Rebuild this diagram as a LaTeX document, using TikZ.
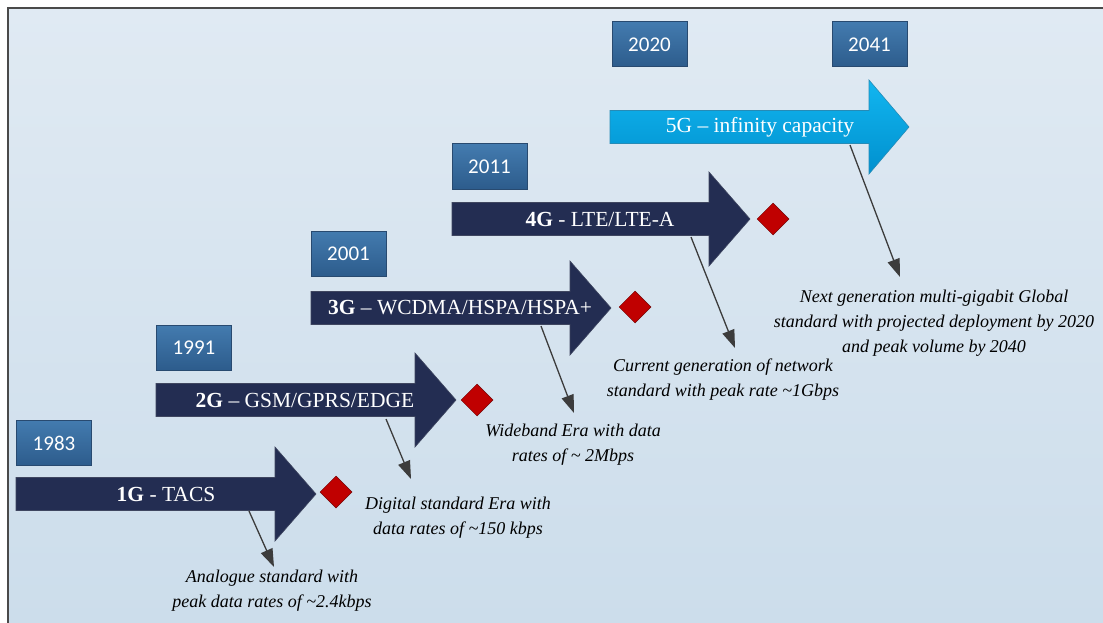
\documentclass[tikz,border=0pt]{standalone}
\usepackage{fontspec}
\newfontfamily\tnr{Liberation Serif}
\newfontfamily\yearfont{Carlito}
\usetikzlibrary{arrows.meta,shapes.geometric}
\definecolor{navy}{HTML}{232D52}
\definecolor{bgtop}{HTML}{E0EAF3}
\definecolor{bgbot}{HTML}{CCDDEB}
\definecolor{framec}{HTML}{4A4A4A}
\definecolor{yeartop}{HTML}{437BAF}
\definecolor{yearbot}{HTML}{2D5C8C}
\definecolor{yearline}{HTML}{284A70}
\definecolor{skytop}{HTML}{12B6F0}
\definecolor{skybot}{HTML}{0090CE}
\definecolor{redd}{HTML}{C00000}
\definecolor{calloutc}{HTML}{3C3C3C}
\newcommand\genarrow[5]{%
  \path[#1] (#2,{#5-16.5}) -- (#3,{#5-16.5}) -- (#3,{#5-47}) -- (#4,#5)
    -- (#3,{#5+47}) -- (#3,{#5+16.5}) -- (#2,{#5+16.5}) -- cycle;}
\begin{document}
\begin{tikzpicture}[x=1pt,y=-1pt,
  navyarrow/.style={fill=navy,draw=navy!70!gray,line width=0.6pt},
  skyarrow/.style={top color=skytop,bottom color=skybot,draw=skybot!70!gray,line width=0.6pt},
  yearbox/.style={top color=yeartop,bottom color=yearbot,draw=yearline,line width=1pt,
    minimum width=75pt,minimum height=45pt,inner sep=0pt,text=white,
    font=\yearfont\fontsize{21}{24}\selectfont},
  gentext/.style={text=white,inner sep=0pt,font=\tnr\fontsize{21.5}{24}\selectfont},
  marker/.style={diamond,aspect=1,fill=redd,draw=redd!60!black,line width=0.5pt,
    minimum width=32pt,minimum height=32pt,inner sep=0pt},
  note/.style={align=center,inner sep=0pt,font=\tnr\itshape\fontsize{18}{25}\selectfont},
  callout/.style={draw=calloutc,line width=1.3pt,-{Triangle[length=18pt,width=12.5pt]}}]
\useasboundingbox (0,0) rectangle (1103,623);
\shade[top color=bgtop,bottom color=bgbot] (8,8) rectangle (1103,623);
\draw[framec,line width=1.6pt] (8,623) -- (8,8) -- (1103,8);

% generation arrows
\genarrow{navyarrow}{16}{275}{316}{494}
\genarrow{navyarrow}{156}{415}{456}{400}
\genarrow{navyarrow}{311}{570}{611}{308}
\genarrow{navyarrow}{452}{709}{750}{219}
\genarrow{skyarrow}{610}{869}{909}{127}

\node[gentext] (g1) at (166,494) {\textbf{1G} - TACS};
\node[gentext] (g2) at (305,400) {\textbf{2G} – GSM/GPRS/EDGE};
\node[gentext] (g3) at (460,308) {\textbf{3G} – WCDMA/HSPA/HSPA+};
\node[gentext] (g4) at (600,219) {\textbf{4G} - LTE/LTE-A};
\node[gentext] (g5) at (760,127) {5G – infinity capacity};

% year boxes
\node[yearbox] (y1) at (54,443) {1983};
\node[yearbox] (y2) at (194,347.5) {1991};
\node[yearbox] (y3) at (348.5,253.5) {2001};
\node[yearbox] (y4) at (489.5,166.5) {2011};
\node[yearbox] (y5) at (649.5,44.5) {2020};
\node[yearbox] (y6) at (869.5,44.5) {2041};

% markers
\node[marker] (m1) at (336,492) {};
\node[marker] (m2) at (477,400) {};
\node[marker] (m3) at (635,307) {};
\node[marker] (m4) at (773,219) {};

% notes
\node[note] (n1) at (272,591) {Analogue standard with\\peak data rates of \textasciitilde2.4kbps};
\node[note] (n2) at (458,518) {Digital standard Era with\\data rates of \textasciitilde150 kbps};
\node[note] (n3) at (573,445) {Wideband Era with data\\rates of \textasciitilde{} 2Mbps};
\node[note] (n4) at (723,380) {Current generation of network\\standard with peak rate \textasciitilde1Gbps};
\node[note] (n5) at (934,323) {Next generation multi-gigabit Global\\standard with projected deployment by 2020\\and peak volume by 2040};

% callouts
\coordinate (s1) at (249,511); \coordinate (e1) at (274,567);
\coordinate (s2) at (386,419); \coordinate (e2) at (411,479);
\coordinate (s3) at (541,326); \coordinate (e3) at (574,413);
\coordinate (s4) at (691,237); \coordinate (e4) at (735,348);
\coordinate (s5) at (850,145); \coordinate (e5) at (900,277);
\draw[callout] (s1) -- (e1);
\draw[callout] (s2) -- (e2);
\draw[callout] (s3) -- (e3);
\draw[callout] (s4) -- (e4);
\draw[callout] (s5) -- (e5);
\end{tikzpicture}
\end{document}
